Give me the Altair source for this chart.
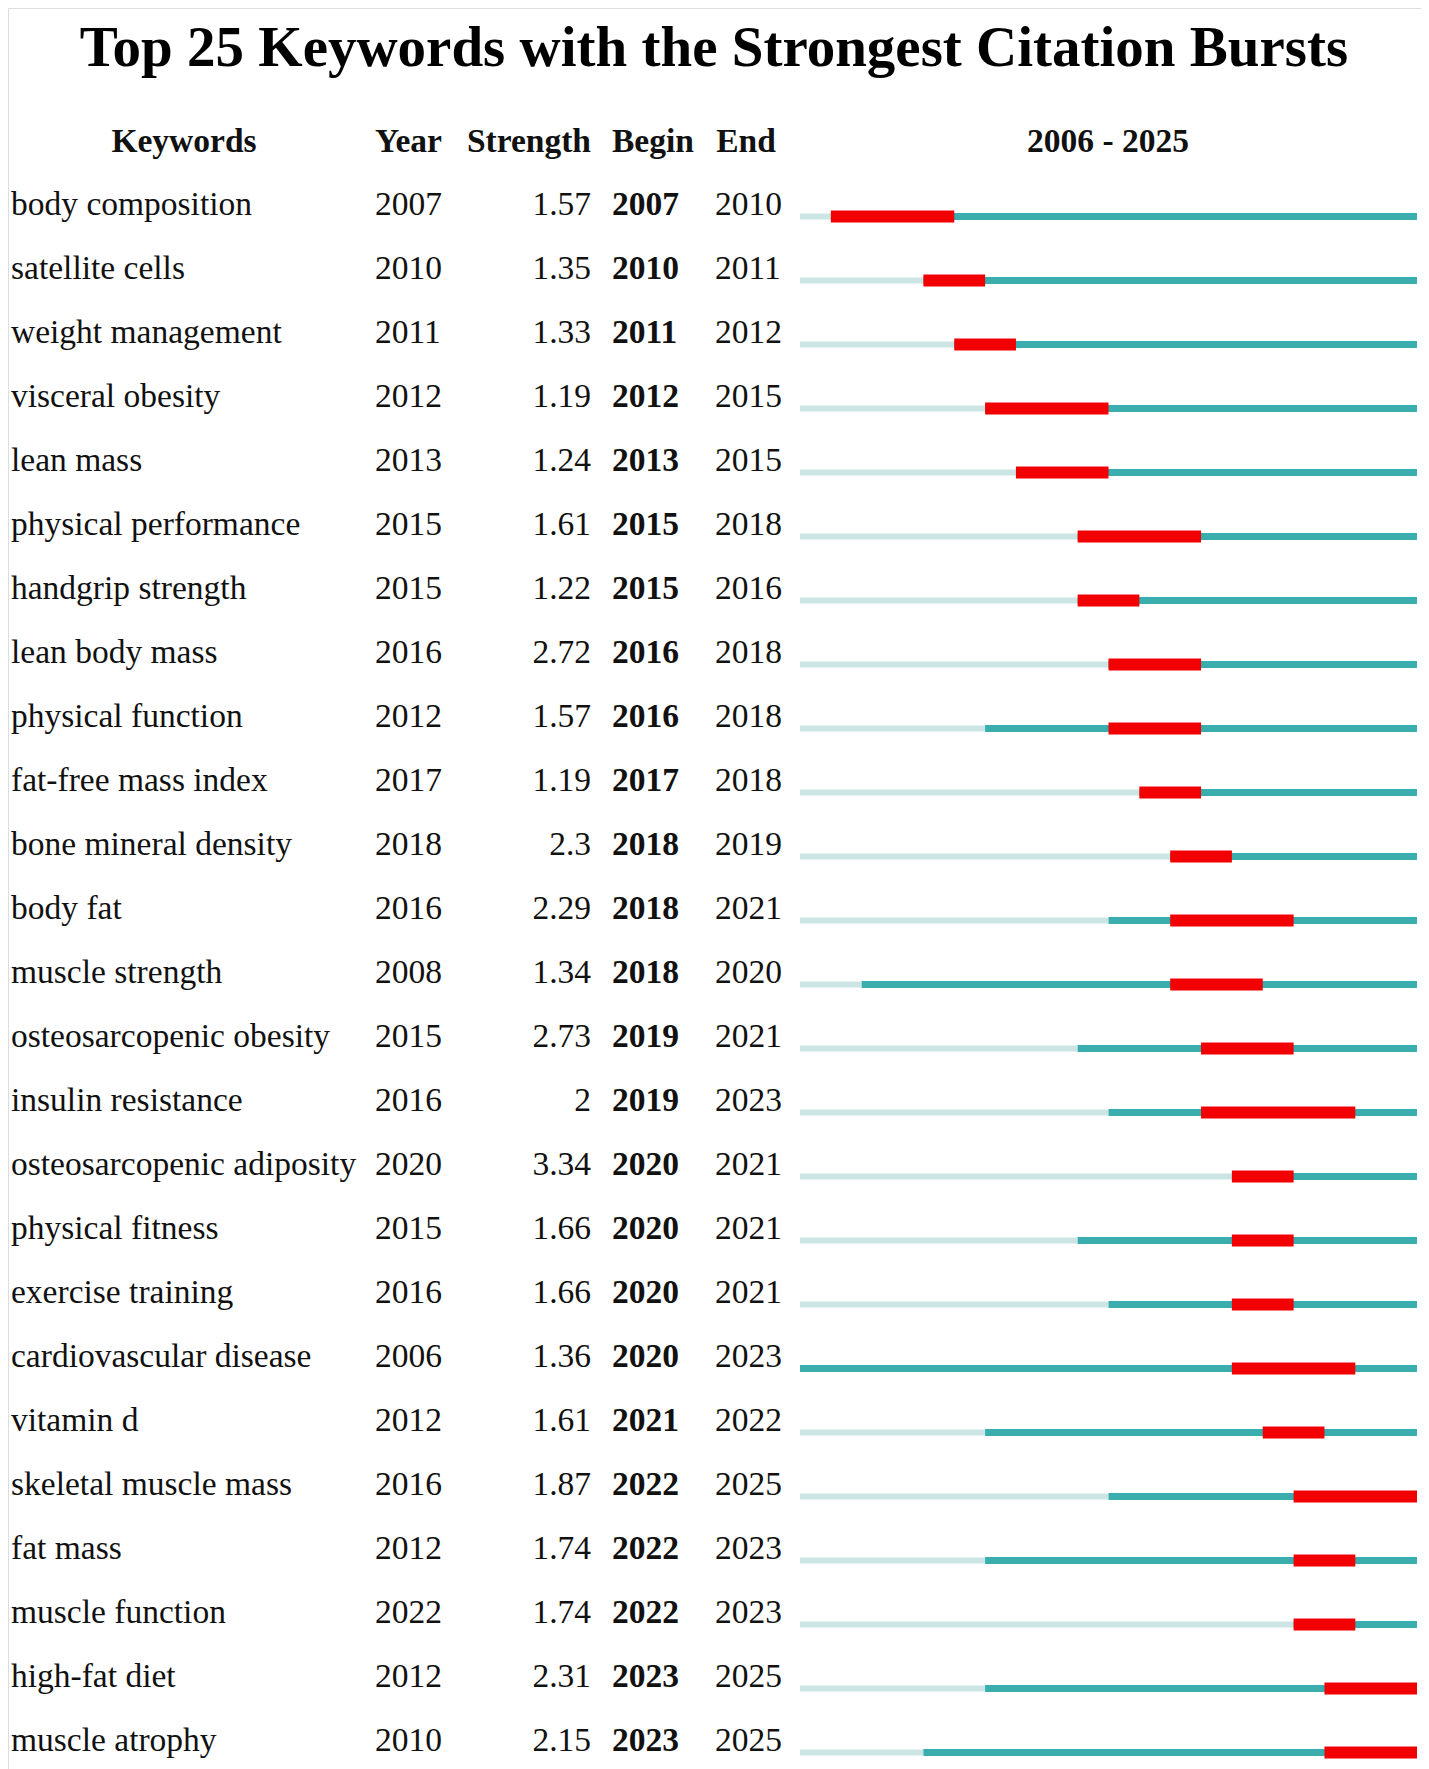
import altair as alt
import pandas as pd

keywords = ["body composition", "satellite cells", "weight management", "visceral obesity",
            "lean mass", "physical performance", "handgrip strength", "lean body mass",
            "physical function", "fat-free mass index", "bone mineral density", "body fat",
            "muscle strength", "osteosarcopenic obesity", "insulin resistance",
            "osteosarcopenic adiposity", "physical fitness", "exercise training",
            "cardiovascular disease", "vitamin d", "skeletal muscle mass", "fat mass",
            "muscle function", "high-fat diet", "muscle atrophy"]
years = [2007, 2010, 2011, 2012, 2013, 2015, 2015, 2016, 2012, 2017, 2018, 2016, 2008,
         2015, 2016, 2020, 2015, 2016, 2006, 2012, 2016, 2012, 2022, 2012, 2010]
strengths = ["1.57", "1.35", "1.33", "1.19", "1.24", "1.61", "1.22", "2.72", "1.57", "1.19",
             "2.3", "2.29", "1.34", "2.73", "2", "3.34", "1.66", "1.66", "1.36", "1.61",
             "1.87", "1.74", "1.74", "2.31", "2.15"]
begins = [2007, 2010, 2011, 2012, 2013, 2015, 2015, 2016, 2016, 2017, 2018, 2018, 2018,
          2019, 2019, 2020, 2020, 2020, 2020, 2021, 2022, 2022, 2022, 2023, 2023]
ends = [2010, 2011, 2012, 2015, 2015, 2018, 2016, 2018, 2018, 2018, 2019, 2021, 2020,
        2021, 2023, 2021, 2021, 2021, 2023, 2022, 2025, 2023, 2023, 2025, 2025]
period_start, period_end = 2006, 2025
title_text = "Top 25 Keywords with the Strongest Citation Bursts"
headers = ["Keywords", "Year", "Strength", "Begin", "End", f"{period_start} - {period_end}"]

df = pd.DataFrame({
    "Keyword": keywords, "Year": years, "Strength": strengths,
    "Begin": begins, "End": ends,
})
df["YearS"] = df["Year"].astype(str)
df["BeginS"] = df["Begin"].astype(str)
df["EndS"] = df["End"].astype(str)
df["Start"] = period_start
df["Stop"] = period_end + 1

FONT = "Liberation Serif"
FS = 33.5
yscale = alt.Scale(type="point", domain=keywords, range=[207, 207 + 64 * 24], padding=0)
xscale = alt.Scale(domain=[period_start, period_end + 1], range=[792, 1409], nice=False, zero=False)
Y = alt.Y("Keyword:N", scale=yscale, axis=None)

base = alt.Chart(df)

light = base.mark_rule(color="#cde4e5", strokeWidth=6, strokeCap="butt", yOffset=1.5).encode(
    x=alt.X("Start:Q", scale=xscale, axis=None), x2="Year:Q", y=Y)
teal = base.mark_rule(color="#3aadaf", strokeWidth=7, strokeCap="butt", yOffset=1.5).encode(
    x=alt.X("Year:Q", scale=xscale, axis=None), x2="Stop:Q", y=Y)
red = base.transform_calculate(EndX="datum.End + 1").mark_rule(
    color="#f20000", strokeWidth=12, strokeCap="butt", yOffset=1.5).encode(
    x=alt.X("Begin:Q", scale=xscale, axis=None), x2="EndX:Q", y=Y)

def col(field, x, align="left", bold=False):
    return base.mark_text(font=FONT, fontSize=FS, align=align, baseline="alphabetic",
                          fontWeight="bold" if bold else "normal", color="#111111").encode(
        x=alt.value(x), y=Y, text=alt.Text(f"{field}:N"))

t_kw = col("Keyword", 3)
t_year = col("YearS", 367)
t_str = col("Strength", 583, align="right")
t_beg = col("BeginS", 604, bold=True)
t_end = col("EndS", 707)

hdf = pd.DataFrame({"h": headers})
def head(i, x, align):
    return alt.Chart(hdf).transform_filter(f"datum.h == '{headers[i]}'").mark_text(
        font=FONT, fontSize=FS, fontWeight="bold", align=align, baseline="alphabetic",
        color="#111111").encode(x=alt.value(x), y=alt.value(144), text="h:N")

h_kw = head(0, 176, "center")
h_year = head(1, 367, "left")
h_str = head(2, 583, "right")
h_beg = head(3, 604, "left")
h_end = head(4, 738, "center")
h_per = head(5, 1100, "center")

tdf = pd.DataFrame({"t": [title_text]})
title = alt.Chart(tdf).mark_text(font=FONT, fontSize=57, fontWeight="bold", align="center",
                                 baseline="alphabetic", color="#000000").encode(
    x=alt.value(706), y=alt.value(58), text="t:N")

chart = alt.layer(light, teal, red, t_kw, t_year, t_str, t_beg, t_end,
                  h_kw, h_year, h_str, h_beg, h_end, h_per, title).properties(
    width=1413, height=1761, autosize=alt.AutoSizeParams(type="none"), padding=0
).configure_view(strokeWidth=0, stroke="transparent").configure(background="white")

chart.save("out.html", embed_options={"renderer": "svg", "actions": False})
